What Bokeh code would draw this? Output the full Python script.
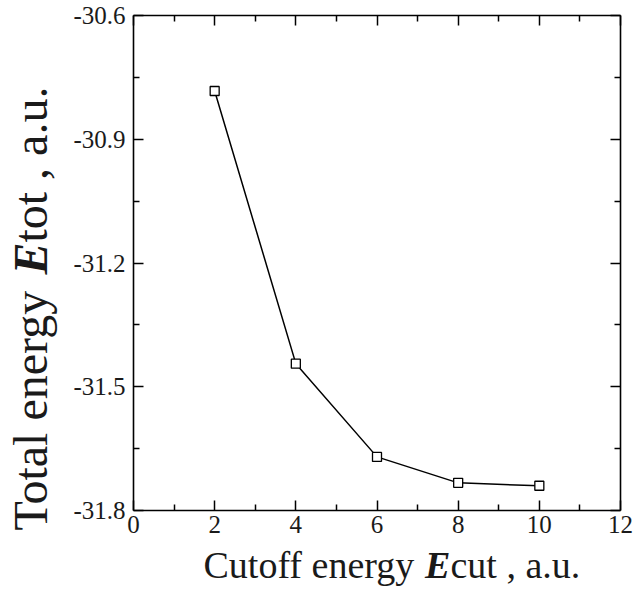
import math
from bokeh.plotting import figure
from bokeh.models import (LinearAxis, Range1d, Label, FixedTicker,
                          PrintfTickFormatter, CustomJSTickFormatter)
from bokeh.embed import file_html
from bokeh.resources import INLINE

# ---- data ----
cutoff = [2, 4, 6, 8, 10]
energy = [-30.783, -31.444, -31.670, -31.733, -31.740]
x_ticks = [0, 2, 4, 6, 8, 10, 12]
x_minor = [1, 3, 5, 7, 9, 11]
y_ticks = [-31.8, -31.5, -31.2, -30.9, -30.6]
y_minor = [-31.65, -31.35, -31.05, -30.75]
x_lim = (0, 12)
y_lim = (-31.8, -30.6)

FONT = "Liberation Serif"
INK = "#1a1a1a"

# plot box in page pixels (layout)
W, H = 635, 595
L, R, T, B = 133, 620, 15, 510
xs = (x_lim[1] - x_lim[0]) / (R - L)
ys = (y_lim[1] - y_lim[0]) / (B - T)
x_range = Range1d(x_lim[0] - L * xs, x_lim[1] + (W - R) * xs)
y_range = Range1d(y_lim[0] - (H - B) * ys, y_lim[1] + T * ys)

p = figure(width=W, height=H, output_backend="svg", toolbar_location=None,
           x_range=x_range, y_range=y_range,
           min_border=0, background_fill_color="white",
           border_fill_color="white")
p.grid.visible = False
p.outline_line_color = None

xt = FixedTicker(ticks=x_ticks, minor_ticks=x_minor)
yt = FixedTicker(ticks=y_ticks, minor_ticks=y_minor)


def style(ax, labels=True):
    ax.axis_line_color = "black"
    ax.axis_line_width = 1.6
    ax.major_tick_in = 10
    ax.major_tick_out = 0
    ax.minor_tick_in = 6
    ax.minor_tick_out = 0
    ax.major_tick_line_width = 1.5
    ax.minor_tick_line_width = 1.5
    ax.major_tick_line_color = "black"
    ax.minor_tick_line_color = "black"
    ax.major_label_text_font = FONT
    ax.major_label_text_font_size = "25px"
    ax.major_label_text_color = INK
    if not labels:
        ax.formatter = CustomJSTickFormatter(code="return ''")


xa = p.xaxis[0]
xa.ticker = xt
style(xa)
xa.fixed_location = y_lim[0]
xa.bounds = x_lim
xa.major_label_standoff = 5

ya = p.yaxis[0]
ya.ticker = yt
ya.formatter = PrintfTickFormatter(format="%.1f")
style(ya)
ya.fixed_location = x_lim[0]
ya.bounds = y_lim
ya.major_label_standoff = 8

top = LinearAxis(ticker=xt, fixed_location=y_lim[1], bounds=x_lim)
style(top, labels=False)
p.add_layout(top, "above")
right = LinearAxis(ticker=yt, fixed_location=x_lim[1], bounds=y_lim)
style(right, labels=False)
p.add_layout(right, "right")

p.line(cutoff, energy, line_color="black", line_width=1.5)
p.scatter(cutoff, energy, marker="square", size=9, fill_color="white",
          line_color="black", line_width=1.3)

# ---- axis titles built from pieces (mixed styles) ----
XS = 38
xl_x, xl_y = 203, 31
pieces_x = [("Cutoff energy ", "normal", 5.832), ("E", "bold italic", 0.667),
            ("cut , a.u.", "normal", 0)]
pos = xl_x
for txt, st, w in pieces_x:
    p.add_layout(Label(x=pos, y=xl_y, x_units="screen", y_units="screen",
                       text=txt, text_font=FONT, text_font_size=f"{XS}px",
                       text_font_style=st, text_color=INK,
                       text_align="left", text_baseline="alphabetic"))
    pos += w * XS

YS = 48
yl_x, yl_y = 30, 65
pieces_y = [("Total energy ", "normal", 5.332), ("E", "bold italic", 0.667),
            ("tot , a.u.", "normal", 0)]
pos = yl_y
for txt, st, w in pieces_y:
    p.add_layout(Label(x=yl_x, y=pos, x_units="screen", y_units="screen",
                       text=txt, text_font=FONT, text_font_size=f"{YS}px",
                       text_font_style=st, text_color=INK, angle=math.pi / 2,
                       text_align="left", text_baseline="alphabetic"))
    pos += w * YS

open("out.html", "w").write(file_html(p, INLINE))
